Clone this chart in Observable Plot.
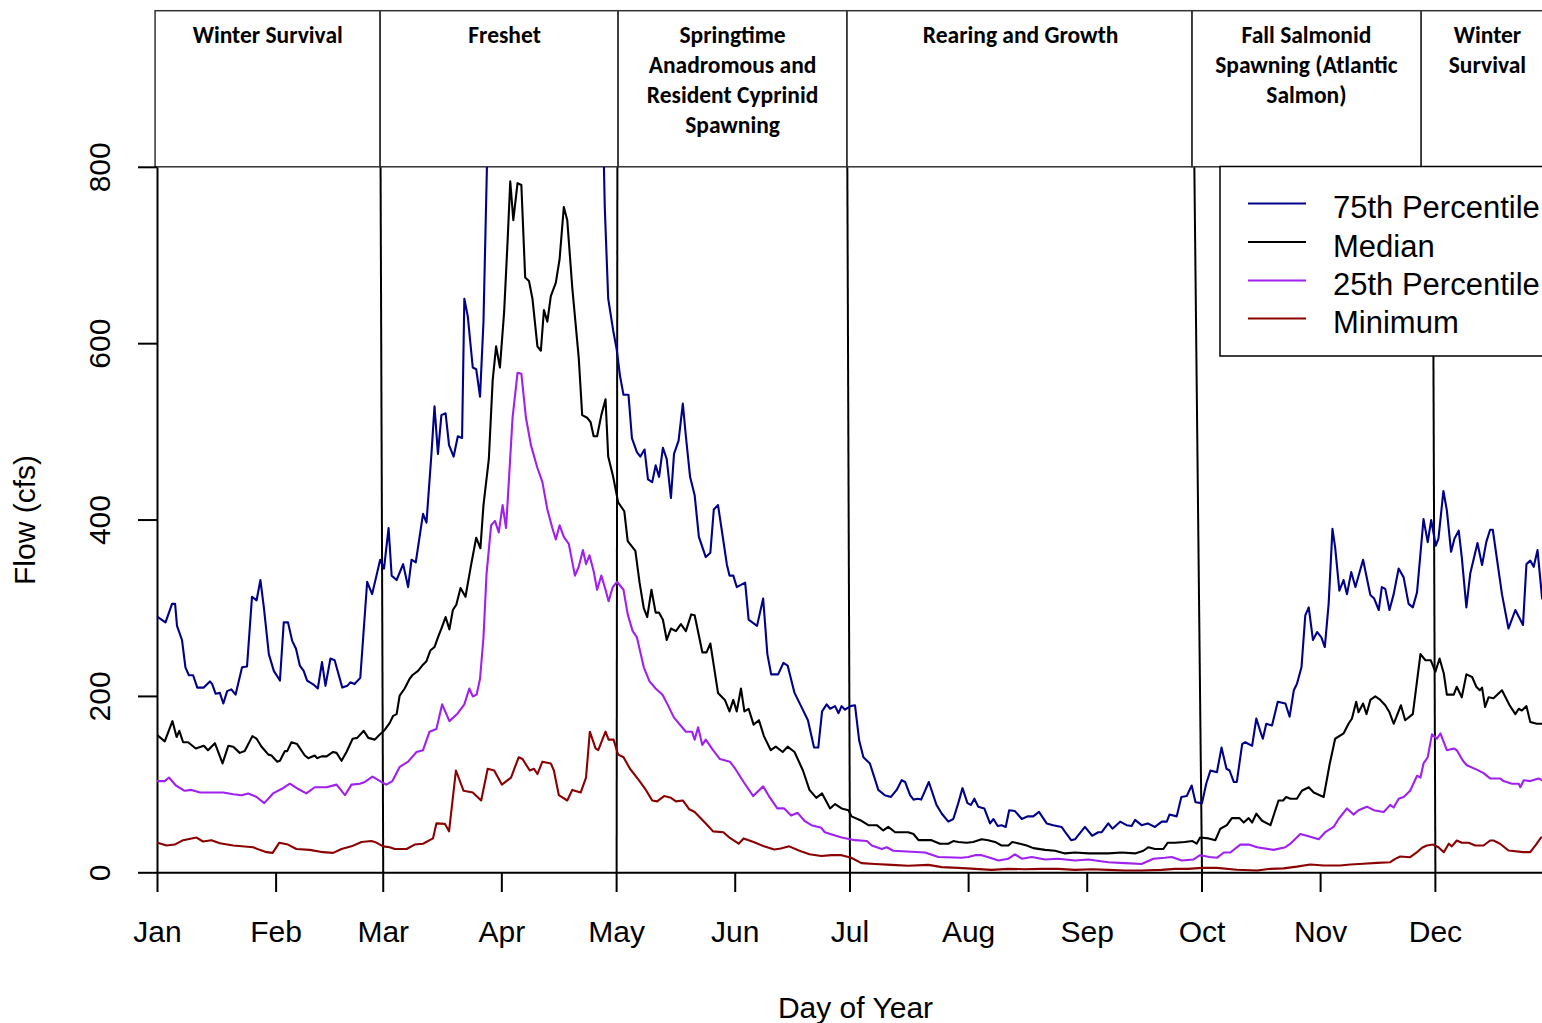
<!DOCTYPE html>
<html>
<head>
<meta charset="utf-8">
<script src="https://cdn.jsdelivr.net/npm/d3@7"></script>
<script src="https://cdn.jsdelivr.net/npm/@observablehq/plot@0.6"></script>
<style>
  html, body { margin: 0; padding: 0; background: #fff; }
  #chart svg { display: block; }
</style>
</head>
<body>
<div id="chart"></div>
<script>
// ---------- categories / ticks ----------
const monthLabels = ["Jan","Feb","Mar","Apr","May","Jun","Jul","Aug","Sep","Oct","Nov","Dec"];
const monthStartDays = [1,32,60,91,121,152,182,213,244,274,305,335];
const yTicks = [0,200,400,600,800];

// ---------- biological periods (header) ----------
const periodLabels = ["Winter Survival","Freshet","Springtime\nAnadromous and\nResident Cyprinid\nSpawning","Rearing and Growth","Fall Salmonid\nSpawning (Atlantic\nSalmon)","Winter\nSurvival"];
const periodStart = [0.5, 59.3, 121.5, 181.3, 271.5, 331.4];
const periodEnd   = [59.3, 121.5, 181.3, 271.5, 331.4, 366];
const periodLabelDay = [29.8, 91.7, 151.3, 226.6, 301.3, 348.6];
const boundaryTopDay    = [1, 59.3, 121.2, 181.3, 272, 334.3];
const boundaryBottomDay = [1, 60, 121, 182, 274, 335];

// ---------- series ----------
const seriesNames  = ["75th Percentile","Median","25th Percentile","Minimum"];
const seriesColors = ["#00008B","#000000","#A020F0","#8B0000"];

const p75Day = [1.1,3.1,4.8,5.6,6.1,7.4,8.3,9.2,10.3,11.4,13.1,14.7,15.3,16.2,17.3,18.2,19.2,20.3,21.4,23.1,24.4,25.7,26.9,27.9,28.8,30.1,31.4,33,34,35.1,36.2,37.2,38.2,39.2,40.1,41.9,42.9,44,44.9,46.2,47.3,49.3,50.6,51.4,52.5,54,55.8,57.1,59.2,60.2,61.4,62.2,63.5,65.2,66.5,67.4,68.5,70.4,71.3,72.6,73.4,74.3,75.2,76.3,77.2,78.4,79.5,80.6,81.2,82.1,83.4,84.3,85.3,86.2,87.1,88,117.4,117.9,118.8,120.1,121,121.9,122.8,124.1,125,126.3,127.2,128.3,129.2,130.3,131.2,132.1,133.1,134.1,135.2,136,137.2,138.3,139.1,140.2,141.4,142.5,144.3,145.5,146.4,147.5,148.4,149.8,150.5,151.5,152.4,154.6,155.5,157.7,159.3,160.4,161.4,163.2,164.6,165.7,167.5,169.2,171,172.6,173.7,174.7,175.9,176.8,178.1,179,179.8,180.7,182.1,183.3,184.4,185.5,187.2,189.4,191.1,192.7,194.2,195.5,196.4,197.7,198.6,199.7,200.6,202.6,204.6,206,207.7,209,210.3,211.4,212.7,213.6,214.5,215.5,217.1,218.6,219.5,220.6,221.6,222.7,223.6,225.1,226.9,228.4,229.9,231.4,233.4,235.1,237.3,238.6,239.8,240.8,243.4,245.3,246.9,247.8,249.5,250.6,252.6,254.3,255.6,256.5,258.2,259.8,261.7,263.5,264.8,265.5,267.4,268.6,270,271.3,272.3,274,275.1,276.2,277.9,279.1,280.4,281.2,282.3,283.1,284.5,285.3,287.1,288.2,289.2,289.9,290.8,292.3,293.8,295.8,296.9,298,298.8,300,301,301.9,303,304.1,305.2,306.1,307.1,308.1,308.8,309.9,311,311.9,313,314.1,316.1,318,319,320.2,321,321.9,323,324.1,325.4,326.7,328,329.1,330.2,331.9,333,333.9,335.1,335.8,337.1,338,339.1,340,341.1,341.9,343.1,344.1,346,347.2,348.3,349.3,350,352.4,354.1,355.9,357.9,358.8,359.8,360.7,361.7,362.9,364];
const p75Flow = [290,284,305,305,280,264,233,224,224,210,210,217,214,203,204,192,206,208,202,233,234,313,309,332,301,248,229,218,284,284,263,254,235,229,218,213,209,239,212,243,241,210,212,216,214,221,330,316,355,345,391,337,332,350,324,355,352,407,397,475,529,475,519,521,485,472,495,493,651,631,573,571,540,625,800,880,860,755,651,615,594,563,542,542,493,477,472,480,446,443,462,449,482,469,425,475,490,532,495,449,428,381,358,363,412,417,391,350,337,337,324,329,287,280,311,248,225,225,238,235,204,189,173,142,142,183,191,186,189,181,189,185,189,190,150,131,124,94,88,86,94,105,103,88,83,84,83,103,77,67,58,61,79,96,79,77,84,75,73,56,61,53,54,52,71,70,61,64,64,69,56,54,52,44,37,38,52,42,46,46,56,50,58,54,53,60,54,56,52,58,58,66,64,86,87,99,80,79,101,116,114,142,118,116,103,103,146,148,144,175,161,152,169,167,194,192,177,207,214,233,292,301,264,273,267,256,305,390,369,320,332,316,341,324,355,315,311,298,324,322,298,316,345,335,305,301,318,401,375,400,371,379,433,411,364,379,388,358,301,339,374,349,375,389,389,316,277,298,281,350,354,347,366,311,312];

const medDay = [1,2.9,4.9,6,6.7,7.7,9,11,13.1,14.2,16,18,19.5,20.8,22.5,23.8,25.8,26.9,28.2,30,30.8,32.3,33,34.3,34.9,36,37.5,39.5,40.4,42.1,42.7,43.9,45.2,46.9,47.8,49.1,50.4,52,53.2,54.9,56.1,57.8,58.9,60.2,61.7,62.6,63.5,64.3,65.6,66.9,67.6,69.1,70.2,71.3,72.3,73.4,74.3,75.2,76.3,77.3,78.2,79.1,80.2,81.5,83,84.3,85.4,86.2,87.6,88.6,89.5,90.5,91.6,92.5,93.2,94,95.1,96.1,97.1,98.1,99,100.3,101.2,102,102.9,103.8,105.1,106.1,107.2,108.1,109.4,111.1,112,113.3,114.2,115,115.9,117,118.1,118.8,120.1,121.4,123,123.9,125.9,127,128.1,129,130.1,131.2,132.1,133.1,134.1,135.2,136.5,137.8,139.1,140.5,141.4,142.5,143.4,144.5,145.5,146.4,147.5,149.3,150.5,151.5,152.4,153.5,154.4,155.5,156.8,158.2,159.5,161.3,162.6,164.4,165.7,167.5,169.7,171.4,173.2,174.7,176.8,178.1,179.8,181.6,182.4,185,186.8,189,190.7,192,193.8,197.2,198.6,199.9,203.3,205.5,207.7,209,210.3,212.5,214.2,216.4,218.1,219.9,221.6,223.4,224.4,226.4,228.2,229.9,233,235.6,238.2,240.8,244.3,249.5,253,256.5,258.7,260,261.7,263.9,265,266.9,269.5,271.5,272.6,273.5,275.7,277.5,278.8,280.5,281.8,283.8,284.9,286.2,287.1,288.2,289.7,291.9,294,295.2,296,297.1,298.8,300.1,301.9,303.2,305.8,307.4,308.8,311,312.3,313.2,314.3,314.9,316.1,317,318,319.3,320.6,321.9,323,324.1,325.1,326,327.1,329.1,331.1,332.4,333.8,335,336.1,337.2,338,339.8,340.6,341.9,343.1,344.6,345.7,346.6,347.2,348,348.9,350.2,352.4,354.4,355.9,356.8,357.6,358.8,359.8,361.5,362.9,364];
const medFlow = [156,149,172,154,161,148,148,141,144,139,147,124,144,143,136,138,155,152,143,134,133,126,127,138,138,148,146,133,130,133,130,132,132,137,136,127,137,152,153,161,153,151,156,161,170,178,180,201,209,220,224,229,235,240,252,256,267,277,290,276,298,304,323,313,350,380,368,417,469,558,597,573,636,716,784,740,782,780,675,671,651,597,592,638,625,654,669,696,755,740,664,584,519,516,511,495,495,519,537,472,449,420,410,376,365,329,300,290,321,295,295,287,264,277,274,282,274,293,292,269,250,250,260,235,204,196,183,196,183,209,183,186,168,173,155,139,143,137,143,137,116,94,85,90,73,78,73,71,64,59,54,54,48,52,46,46,44,37,37,33,33,36,35,34,35,38,37,35,31,31,35,33,31,28,26,25,22,23,22,22,23,22,25,29,27,27,34,34,35,36,33,40,39,37,50,54,62,62,57,62,57,67,59,54,82,82,86,84,84,93,97,91,86,124,152,158,169,175,194,182,192,180,196,200,196,190,182,169,180,190,173,180,248,241,241,228,243,226,202,202,211,199,225,222,211,207,210,188,199,198,207,190,180,186,184,189,171,169,169,169];

const p25Day = [1,2.9,4,5.8,8.1,9.9,12.1,18.2,20.8,23,24.7,26.9,28.9,31.2,33.4,35.6,37.8,39.9,42.1,45.2,47.8,50,51.7,53.9,55.2,57.2,59.5,60.8,62.4,64.3,66.5,68.7,70.4,72.1,73.9,75.4,77.3,79.5,81.2,82.5,83.4,84.4,85.3,86.2,87,88.2,89.2,90.2,91.2,92.1,92.9,93.8,95.1,96.1,97.3,98.6,100.3,101.6,102.9,104.2,105.1,106.1,107.2,108.5,110.1,111.1,112.2,113,113.9,115,115.9,117,118.1,118.9,120,121.1,122.8,123.9,125.2,126.3,128.1,129.6,131.2,133,134.3,136,139.1,140.7,141.4,142.3,143.4,144.3,146.2,148,150.6,152,154.2,156.7,159.3,160.8,163,164.8,166.6,168.3,170.1,171.9,174.5,175.4,179.8,183.3,186.4,187.7,190.3,191.6,193.3,201.6,205.1,211.2,212.9,214.7,216.4,218.6,220.8,223.4,225.1,226.9,229.5,233,236.4,240.8,244.3,249.5,253.9,258.2,261.3,264.3,266.1,268.7,271.7,273.5,276,277.9,279.7,281.4,284,286.2,288.4,292.7,295.8,297.1,299.7,301.4,304.5,306.2,308.4,309.7,311.9,313.6,314.9,317.1,318.9,321.5,323.2,324.1,325.4,326.7,328.4,330.2,331.1,331.9,333,334.1,335.4,336.3,338,339.8,340.6,342.2,343.2,345.8,347.6,349.3,351.9,352.8,355,356.8,357.2,358.1,359.8,362,362.9,364];
const p25Flow = [104,104,108,99,93,94,91,91,89,88,90,86,79,90,95,101,95,90,97,97,100,88,100,101,103,109,103,100,104,120,126,137,139,160,163,191,172,181,191,209,200,202,220,267,339,394,399,386,417,391,449,516,567,566,516,485,459,443,412,391,378,394,381,373,337,347,366,350,360,342,321,337,321,308,324,330,321,293,274,267,233,217,209,202,191,176,160,160,151,165,145,151,139,129,126,118,103,87,98,87,73,73,65,68,59,54,51,46,40,37,36,31,27,29,25,23,18,17,18,20,20,17,14,16,21,16,18,15,16,14,15,12,11,10,16,17,18,14,15,20,18,17,23,23,32,32,29,26,29,33,44,42,38,46,52,61,73,66,71,75,71,69,77,74,84,86,93,110,108,124,131,157,152,158,139,141,139,127,122,117,113,107,107,104,101,101,97,105,104,107,105,105];

const minDay = [1,3.4,5.5,7.7,11.2,12.9,15.1,17.3,20.8,26,27.7,29.5,31.1,32.8,35.1,37.3,40.8,44.3,46.9,49.1,51.7,54.3,56.9,57.8,60,61.7,63,66.1,68.2,70.4,73,73.9,76.1,77.2,79,81,83.4,85.6,87.3,89,91,93.4,95.4,96.4,98.3,99.4,100.3,101.6,103.8,104.6,105.9,108.1,109.4,111.6,113,114,115.5,116.2,118.1,118.9,120.2,121.4,122.8,124.5,126.8,128.5,130.3,131.6,133.4,135.2,136.5,138.3,140,141.4,144.5,146.2,148.9,150.6,152.9,154.2,156.8,159.5,162.2,163.9,166.1,168.8,171.4,174.5,177.2,179.8,182.3,185,188.5,192.9,197.2,202.5,206,210.3,214.7,219,223.4,227.7,232.1,236.4,240.8,245.2,249.5,253.9,258.2,263.4,266.9,270.4,273.9,277.9,283.1,288.4,291.9,295.3,298.8,302.3,305.8,310.1,312.8,316.2,319.7,323.2,324.5,325.8,328.4,330.2,331.5,332.8,334.4,335.8,337.2,338.5,339.3,340.6,341.9,343.7,345.4,347.6,349.3,350.2,351.9,354.1,358,359.8,361.5,362.6,364];
const minFlow = [34,31,32,37,40,35.5,37,33.6,31,29,26,23.4,22.6,34,32,27,26,23.4,22.6,27,30,35,36,35,30,29,27,27,32,33,39,56,55.5,47,116,93,91,82,118,116,100,108,131,129,116,118,112,126,124,116,88,82,94,91,108,160,141,139,160,151,151,134,131,118,105,95,82,81,87,85,81,82,72,69,55,47,46,39.5,33,39,35,30,26.5,27.5,30,25,21,19,20,20,17,11,10,9,8,9,6.4,5.6,4.5,3.3,4.5,4,4.5,4.5,3.3,4,3.3,2.6,2.6,3.3,4.5,4.5,5.6,5.6,3.4,2.6,4.5,5,7,9.4,8.3,8.3,9.4,10.2,11.3,12,15.8,18.5,17.7,23.4,28.4,31,32,29,23.4,33,30,36.6,34,34,31,31,36.6,36.6,33,25.3,23.4,23.4,33,40,40];

// ---------- build tables ----------
const seriesDays  = [p75Day, medDay, p25Day, minDay];
const seriesFlows = [p75Flow, medFlow, p25Flow, minFlow];
const periods = periodLabels.map((label, i) => ({label, start: periodStart[i], end: periodEnd[i], labelDay: periodLabelDay[i]}));
const boundaries = boundaryTopDay.map((t, i) => ({top: t, bottom: boundaryBottomDay[i]}));

const W = 1542, H = 1023;
const X0 = 157, PX_PER_DAY = 3.826;
const axisFont = "'Liberation Sans', Arial, Helvetica, sans-serif";
const headFont = "Carlito, Lato, 'Open Sans', sans-serif";

const lineMarks = seriesNames.map((name, k) =>
  Plot.line(seriesDays[k].map((d, i) => ({day: d, flow: seriesFlows[k][i]})), {
    x: "day", y: "flow", stroke: seriesColors[k], strokeWidth: 2.1, clip: "frame"
  })
);

const chart = Plot.plot({
  width: W,
  height: H,
  marginLeft: X0,
  marginRight: 0,
  marginTop: 167,
  marginBottom: 151,
  style: {fontFamily: axisFont, background: "#fff", color: "#000", overflow: "hidden"},
  x: {type: "linear", domain: [1, 365], range: [X0, X0 + 364 * PX_PER_DAY], axis: null},
  y: {type: "linear", domain: [0, 800], range: [872.3, 166.8], axis: null},
  marks: [
    // header boxes
    Plot.rect(periods, {x1: "start", x2: "end", y1: 800, y2: 977, fill: "none", stroke: "#333", strokeWidth: 1.5}),
    Plot.text(periods, {x: "labelDay", y: 965, text: "label", lineAnchor: "top", lineHeight: 1.27,
      fontSize: 23.5, fontWeight: "bold", fontFamily: headFont, fill: "#000"}),
    // period boundaries
    Plot.link(boundaries, {x1: "top", y1: 800, x2: "bottom", y2: 0, stroke: "#000", strokeWidth: 2}),
    // data
    ...lineMarks,
    // axes
    Plot.ruleY([0], {stroke: "#000", strokeWidth: 2}),
    Plot.axisY({ticks: yTicks, tickSize: 19, tickFormat: () => "", label: null, stroke: "#000", strokeWidth: 2}),
    Plot.text(yTicks, {y: d => d, text: d => String(d), frameAnchor: "left", dx: -57, rotate: -90,
      textAnchor: "middle", lineAnchor: "middle", fontSize: 30, fontFamily: axisFont, fill: "#000"}),
    Plot.axisX({ticks: monthStartDays, tickSize: 20, tickFormat: () => "", label: null, stroke: "#000", strokeWidth: 2}),
    Plot.text(monthStartDays, {x: d => d, text: (d, i) => monthLabels[i], frameAnchor: "bottom", dy: 69.2,
      lineAnchor: "bottom", textAnchor: "middle", fontSize: 30, fontFamily: axisFont, fill: "#000"}),
    // axis titles
    Plot.text(["Day of Year"], {frameAnchor: "bottom", dx: 5.5, dy: 145, lineAnchor: "bottom", textAnchor: "middle", text: d => d,
      fontSize: 30, fontFamily: axisFont, fill: "#000"}),
    Plot.text(["Flow (cfs)"], {frameAnchor: "left", dx: -132, dy: 0, rotate: -90, textAnchor: "middle", lineAnchor: "middle", text: d => d,
      fontSize: 30, fontFamily: axisFont, fill: "#000"})
  ]
});

// ---------- legend (drawn on top, white background) ----------
const svg = d3.select(chart);
const lg = svg.append("g").attr("class", "legend");
lg.append("rect").attr("x", 1220).attr("y", 166.5).attr("width", 340).attr("height", 189.5)
  .attr("fill", "#fff").attr("stroke", "#000").attr("stroke-width", 1.5);
const legendY = [203.5, 242, 280.5, 318.5];
seriesNames.forEach((name, k) => {
  lg.append("line").attr("x1", 1248).attr("x2", 1306).attr("y1", legendY[k]).attr("y2", legendY[k])
    .attr("stroke", seriesColors[k]).attr("stroke-width", 2);
  lg.append("text").attr("x", 1333).attr("y", legendY[k] + 14.5).text(name)
    .attr("text-anchor", "start")
    .attr("font-size", 31).attr("font-family", axisFont).attr("fill", "#000");
});

document.getElementById("chart").appendChild(chart);
</script>
</body>
</html>
